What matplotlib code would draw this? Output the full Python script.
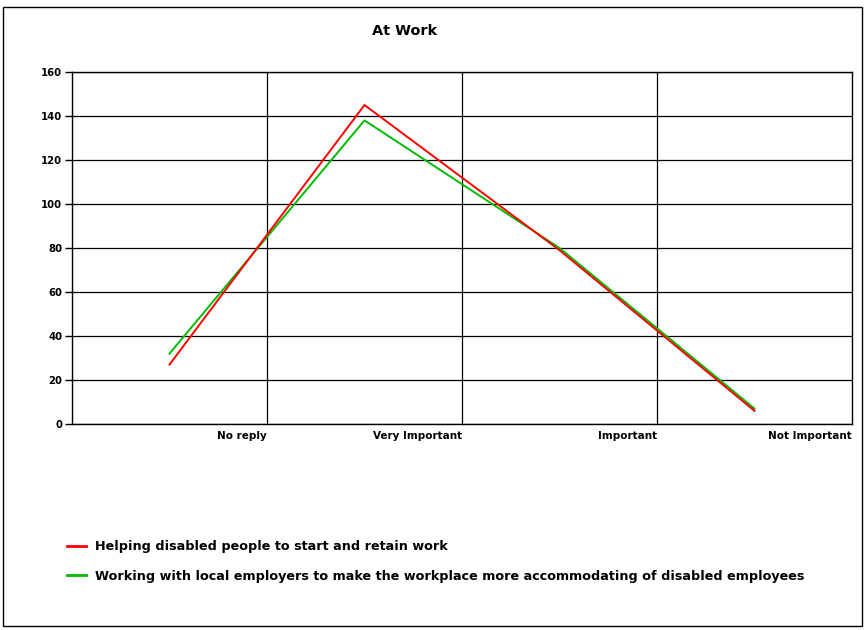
import matplotlib
matplotlib.use("Agg")
import matplotlib.pyplot as plt
from matplotlib.lines import Line2D
from matplotlib.patches import Rectangle

categories = ["No reply", "Very Important", "Important", "Not Important"]
helping = [27, 145, 79, 6]
working = [32, 138, 80, 7]
series_names = ["Helping disabled people to start and retain work",
                "Working with local employers to make the workplace more accommodating of disabled employees"]
yticks = [0, 20, 40, 60, 80, 100, 120, 140, 160]

plt.rcParams['font.family'] = ['DejaVu Sans']

W, H = 866, 630
fig = plt.figure(figsize=(W/100, H/100), dpi=100)
fig.patches.append(Rectangle((3/W, 1-626/H), (862-3)/W, (626-7)/H, transform=fig.transFigure,
                             fill=False, edgecolor='black', linewidth=1))

ax = fig.add_axes([72/W, 1-424/H, (852-72)/W, (424-72)/H])
x = [i + 0.5 for i in range(len(categories))]
ax.plot(x, helping, color='#FF0000', lw=1.4, zorder=3)
ax.plot(x, working, color='#00BB00', lw=1.4, zorder=2)

ax.set_xlim(0, len(categories))
ax.set_ylim(0, 160)
ax.set_yticks(yticks)
ax.set_yticklabels([str(v) for v in yticks], fontsize=7.3, fontweight='bold')
ax.set_xticks(range(1, len(categories) + 1))
ax.set_xticklabels(categories, fontsize=7.5, fontweight='bold', ha='right')
ax.tick_params(axis='x', length=0, pad=5)
ax.tick_params(axis='y', length=5, width=1, pad=2)
for v in yticks:
    ax.axhline(v, color='black', lw=0.9, zorder=1)
for xv in range(1, len(categories)):
    ax.axvline(xv, color='black', lw=0.9, zorder=1)
for s in ax.spines.values():
    s.set_linewidth(1)
    s.set_color('black')

fig.text(405/W, 1-31/H, "At Work", ha='center', va='center', fontsize=10.4, fontweight='bold')

handles = [Line2D([], [], color='#FF0000', lw=2), Line2D([], [], color='#00BB00', lw=2)]
fig.legend(handles, series_names, loc='upper left', bbox_to_anchor=(62/W, 1-535/H),
           frameon=False, prop={'weight': 'bold', 'size': 9.2},
           handlelength=1.5, handletextpad=0.7, labelspacing=1.3, borderaxespad=0)

fig.savefig("out.png", dpi=100)
